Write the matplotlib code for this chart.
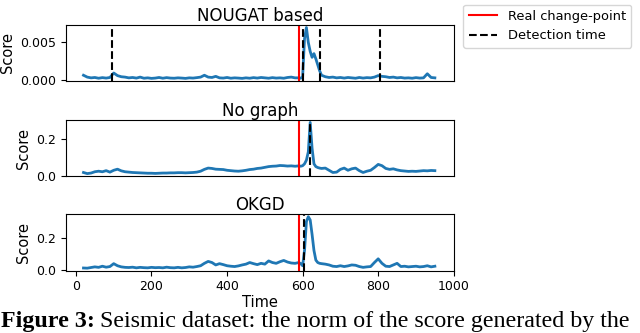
import matplotlib
matplotlib.use("Agg")
import matplotlib.pyplot as plt
from matplotlib.transforms import offset_copy

# Time stamps (finer around the change-point)
time = list(range(20, 590, 10)) + list(range(590, 650, 5)) + list(range(650, 960, 10))

# Score norms
nougat_score = [
    0.00060, 0.00035, 0.00025, 0.00030, 0.00020, 0.00028, 0.00022, 0.00030, 0.00090, 0.00055,
    0.00040, 0.00035, 0.00025, 0.00030, 0.00022, 0.00035, 0.00020, 0.00025, 0.00018, 0.00022,
    0.00030, 0.00020, 0.00028, 0.00022, 0.00020, 0.00025, 0.00022, 0.00018, 0.00025, 0.00022,
    0.00028, 0.00035, 0.00060, 0.00035, 0.00030, 0.00045, 0.00025, 0.00022, 0.00030, 0.00020,
    0.00025, 0.00022, 0.00018, 0.00025, 0.00020, 0.00028, 0.00022, 0.00030, 0.00025, 0.00020,
    0.00028, 0.00022, 0.00025, 0.00020, 0.00030, 0.00035, 0.00025,
    0.00025, 0.00020, 0.00040, 0.00550, 0.00700, 0.00500, 0.00380, 0.00300, 0.00350, 0.00280,
    0.00200, 0.00120,
    0.00060, 0.00040, 0.00030, 0.00035, 0.00025, 0.00030, 0.00022, 0.00030, 0.00025, 0.00020,
    0.00030, 0.00022, 0.00028, 0.00025, 0.00035, 0.00055, 0.00045, 0.00040, 0.00030, 0.00035,
    0.00025, 0.00030, 0.00022, 0.00025, 0.00020, 0.00028, 0.00022, 0.00025, 0.00080, 0.00030,
    0.00025,
]
nograph_score = [
    0.018, 0.012, 0.015, 0.022, 0.025, 0.022, 0.028, 0.020, 0.030, 0.036,
    0.027, 0.022, 0.020, 0.018, 0.017, 0.016, 0.015, 0.014, 0.014, 0.013,
    0.014, 0.015, 0.015, 0.016, 0.016, 0.017, 0.017, 0.016, 0.017, 0.018,
    0.020, 0.025, 0.035, 0.042, 0.040, 0.036, 0.035, 0.034, 0.030, 0.028,
    0.026, 0.025, 0.027, 0.030, 0.034, 0.036, 0.040, 0.042, 0.046, 0.050,
    0.052, 0.053, 0.056, 0.055, 0.053, 0.054, 0.052,
    0.054, 0.052, 0.055, 0.065, 0.085, 0.130, 0.290, 0.150, 0.065, 0.050,
    0.045, 0.042,
    0.040, 0.042, 0.030, 0.018, 0.020, 0.035, 0.042, 0.030, 0.038, 0.042,
    0.028, 0.018, 0.025, 0.030, 0.045, 0.062, 0.055, 0.040, 0.035, 0.038,
    0.032, 0.028, 0.026, 0.024, 0.025, 0.024, 0.026, 0.028, 0.027, 0.029,
    0.028,
]
okgd_score = [
    0.011, 0.010, 0.014, 0.018, 0.015, 0.022, 0.016, 0.020, 0.038, 0.025,
    0.018, 0.015, 0.014, 0.016, 0.012, 0.015, 0.013, 0.012, 0.015, 0.013,
    0.014, 0.012, 0.016, 0.013, 0.012, 0.015, 0.012, 0.014, 0.018, 0.016,
    0.020, 0.025, 0.040, 0.052, 0.045, 0.030, 0.038, 0.032, 0.025, 0.022,
    0.020, 0.024, 0.030, 0.035, 0.045, 0.038, 0.032, 0.040, 0.035, 0.055,
    0.045, 0.040, 0.050, 0.058, 0.048, 0.042, 0.040,
    0.045, 0.038, 0.025, 0.120, 0.300, 0.330, 0.310, 0.220, 0.120, 0.060,
    0.045, 0.040,
    0.038, 0.035, 0.030, 0.022, 0.020, 0.025, 0.020, 0.024, 0.030, 0.028,
    0.020, 0.015, 0.018, 0.020, 0.045, 0.068, 0.040, 0.022, 0.020, 0.030,
    0.040, 0.020, 0.022, 0.018, 0.020, 0.022, 0.018, 0.020, 0.025, 0.018,
    0.022,
]

titles = ["NOUGAT based", "No graph", "OKGD"]
scores = [nougat_score, nograph_score, okgd_score]
change_point = [590, 590, 590]
detections = [[96, 602, 645, 805], [620], [603]]

fig = plt.figure(figsize=(6.4, 3.33), dpi=100)

# Axes boxes (left, bottom, width, height) in figure fraction
boxes = [(0.103, 0.757, 0.606, 0.168),
         (0.103, 0.471, 0.606, 0.169),
         (0.103, 0.187, 0.606, 0.170)]

axes = []
for i, box in enumerate(boxes):
    ax = fig.add_axes(box, sharex=axes[0] if axes else None)
    ax.plot(time, scores[i], color='tab:blue', linewidth=2)
    ax.axvline(change_point[i], color='red', linewidth=1.5, label='Real change-point')
    for j, d in enumerate(detections[i]):
        ax.axvline(d, color='black', linestyle='--', linewidth=1.5,
                   label='Detection time' if j == 0 else None)
    ax.set_title(titles[i], fontsize=12, pad=3)
    ax.set_ylabel('Score', fontsize=10.5)
    ax.tick_params(labelsize=9)
    axes.append(ax)

axes[0].set_yticks([0.0, 0.005])
axes[0].set_yticklabels(['0.000', '0.005'])
axes[1].set_yticks([0.0, 0.2])
axes[2].set_yticks([0.0, 0.2])
for ax in axes[:2]:
    ax.tick_params(bottom=False, labelbottom=False)
axes[2].set_xticks([0, 200, 400, 600, 800, 1000])
axes[2].set_xlabel('Time', fontsize=10.5, labelpad=1)

handles, labels = axes[0].get_legend_handles_labels()
fig.legend(handles, labels, loc='upper left', bbox_to_anchor=(0.714, 1.006),
           fontsize=9.4, handlelength=2.2)

# Caption that is part of the picture
cap = fig.text(0.001, 0.018, 'Figure 3:', family='Liberation Serif',
               fontweight='bold', fontsize=17.3)
fig.canvas.draw()
w = cap.get_window_extent().width
fig.text(0.001, 0.018, 'Seismic dataset: the norm of the score generated by the',
         family='Liberation Serif', fontsize=17.3,
         transform=offset_copy(fig.transFigure, fig=fig, x=w + 5, units='dots'))

plt.savefig('out.png', dpi=100)
